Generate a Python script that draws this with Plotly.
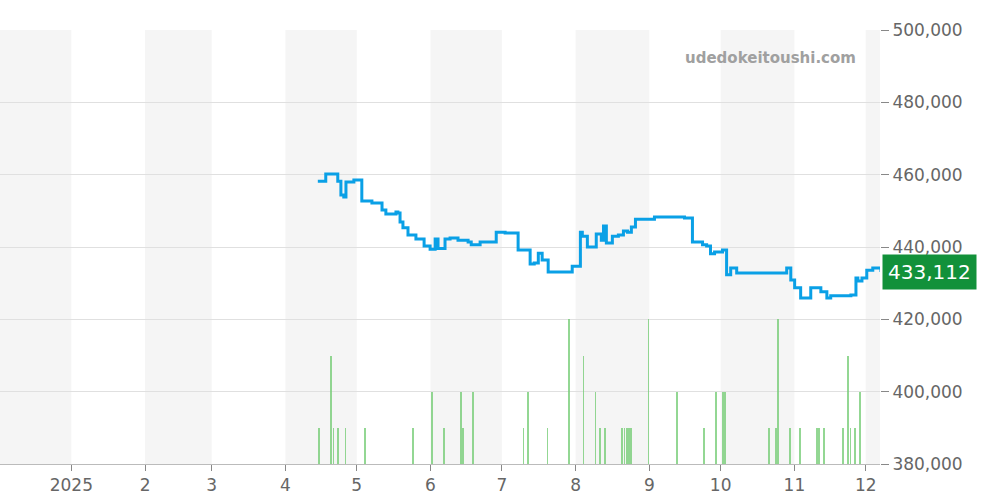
import pandas as pd
import plotly.graph_objects as go

start = pd.Timestamp("2025-01-01")
DAY_SCALE = 1.011  # correction for the scale the day offsets were read at

# price series: day offset from 2025-01-01, price in thousand yen
price_days = [102.5, 104.2, 105.8, 109.2, 110.8, 112.1, 113.3, 114.2, 116.7, 117.5, 120, 120.8,
              125, 129.2, 130, 130.8, 135, 135.8, 136.7, 137.9, 140, 143.3, 144.2, 146.7, 149.2,
              150.4, 151.3, 152.5, 153.8, 155.4, 157.5, 158.3, 160.8, 162.5, 165, 165.4, 166.3,
              170, 170.8, 176.7, 180, 180.4, 185.8, 186.7, 190.8, 192.5, 194.2, 195.8, 198.3,
              200, 208.3, 210.4, 211.7, 212.5, 214.6, 215.8, 218.3, 219.2, 220.4, 221.3, 222.5,
              225, 227.5, 229.6, 231.3, 232.9, 234.6, 242.5, 242.9, 255, 255.4, 258.3, 260, 262.5,
              264.2, 265.8, 267.5, 270, 270.8, 272.5, 274.2, 276.7, 295, 295.8, 297.5, 299.2,
              300.8, 303.3, 305, 307.5, 309.2, 311.7, 312.5, 314.2, 315.8, 324.2, 325, 326.3,
              327.1, 328.8, 330.8, 333.3, 334.2, 336.7]
price_k = [458.2, 458.2, 460.2, 460.2, 458.2, 454.4, 453.8, 458.0, 458.0, 458.5, 458.5, 452.7,
           452.2, 450.2, 450.2, 449.1, 449.7, 449.4, 446.9, 445.3, 443.3, 442.2, 442.2, 440.3,
           439.4, 439.4, 442.2, 439.6, 439.6, 442.2, 442.5, 442.5, 441.9, 441.9, 441.4, 441.4,
           440.6, 441.4, 441.4, 444.1, 444.1, 443.9, 439.2, 439.2, 435.3, 435.6, 438.3, 436.4,
           433.1, 433.1, 434.7, 434.7, 444.1, 443.0, 440.0, 440.0, 443.6, 443.6, 441.9, 445.8,
           441.1, 443.0, 443.3, 444.4, 444.1, 445.5, 447.7, 448.3, 448.3, 448.0, 448.0, 441.4,
           441.4, 440.6, 440.3, 438.1, 438.6, 438.6, 439.2, 432.3, 434.2, 432.8, 432.8, 432.8,
           434.2, 430.9, 428.7, 425.9, 425.9, 428.7, 428.7, 427.6, 427.6, 425.9, 426.5, 426.7,
           426.7, 431.4, 430.6, 431.4, 433.6, 434.2, 434.2, 433.112]

# trade volume per day
vol_days = [103, 108, 109, 111, 114, 122, 142, 150, 155, 162, 163, 167, 188, 190, 198, 207,
            213, 218, 220, 222, 229, 230, 231, 232, 232.6, 240, 252, 263, 268, 271, 272, 290,
            293, 294, 299, 303, 310, 311, 313, 321, 323, 324, 326, 328]
vol = [1, 3, 1, 1, 1, 1, 1, 2, 1, 2, 1, 2, 1, 2, 1, 4, 3, 2, 1, 1, 1, 1, 1, 1, 1, 4, 2, 1, 2,
       2, 2, 1, 1, 4, 1, 1, 1, 1, 1, 1, 3, 1, 1, 2]

px = [start + pd.Timedelta(days=d * DAY_SCALE) for d in price_days]
vx = [start + pd.Timedelta(days=d * DAY_SCALE) for d in vol_days]
price = [p * 1000 for p in price_k]

fig = go.Figure()
fig.add_trace(go.Bar(x=vx, y=vol, yaxis="y2", width=0.75 * 86400000,
                     marker=dict(color="rgba(120,205,120,0.8)", line=dict(width=0)),
                     showlegend=False))
fig.add_trace(go.Scatter(x=px, y=price, mode="lines",
                         line=dict(color="#0aa0e6", width=3, shape="hv"),
                         showlegend=False))

# alternating month bands
bands = [("2024-11-01", "2025-01-01"), ("2025-02-01", "2025-03-01"), ("2025-04-01", "2025-05-01"),
         ("2025-06-01", "2025-07-01"), ("2025-08-01", "2025-09-01"), ("2025-10-01", "2025-11-01"),
         ("2025-12-01", "2026-01-01")]
for a, b in bands:
    fig.add_shape(type="rect", xref="x", yref="paper", x0=a, x1=b, y0=0, y1=1,
                  fillcolor="#f5f5f5", line=dict(width=0), layer="below")

fig.add_annotation(text="<b>udedokeitoushi.com</b>", xref="paper", yref="paper", x=0.975, y=0.96,
                   xanchor="right", yanchor="top", showarrow=False,
                   font=dict(size=15, color="#a0a0a0", family="DejaVu Sans"))
fig.add_annotation(text="433,112", xref="paper", yref="y", x=1, y=433112, xanchor="left",
                   xshift=2, showarrow=False, bgcolor="#12913a", borderpad=5,
                   font=dict(size=20, color="white", family="DejaVu Sans"))

fig.update_layout(
    width=1000, height=500, margin=dict(l=0, r=120, t=30, b=36),
    plot_bgcolor="white", paper_bgcolor="white", bargap=0,
    font=dict(family="DejaVu Sans", size=17, color="#666"),
    xaxis=dict(type="date", range=["2024-12-02", "2025-12-07"], tickvals=[
        "2025-01-01", "2025-02-01", "2025-03-01", "2025-04-01", "2025-05-01", "2025-06-01",
        "2025-07-01", "2025-08-01", "2025-09-01", "2025-10-01", "2025-11-01", "2025-12-01"],
        ticktext=["2025", "2", "3", "4", "5", "6", "7", "8", "9", "10", "11", "12"],
        ticks="outside", ticklen=6, tickcolor="#888", showgrid=False, showline=True,
        linecolor="#bbb", zeroline=False),
    yaxis=dict(side="right", range=[380000, 500000], dtick=20000, tickformat=",",
               gridcolor="#e0e0e0", ticks="outside", ticklen=8, tickcolor="#888",
               zeroline=False),
    yaxis2=dict(overlaying="y", range=[0, 12], visible=False),
)
fig.write_html("out.html", config={"displayModeBar": False},
               post_script="document.body.style.margin='0';")
